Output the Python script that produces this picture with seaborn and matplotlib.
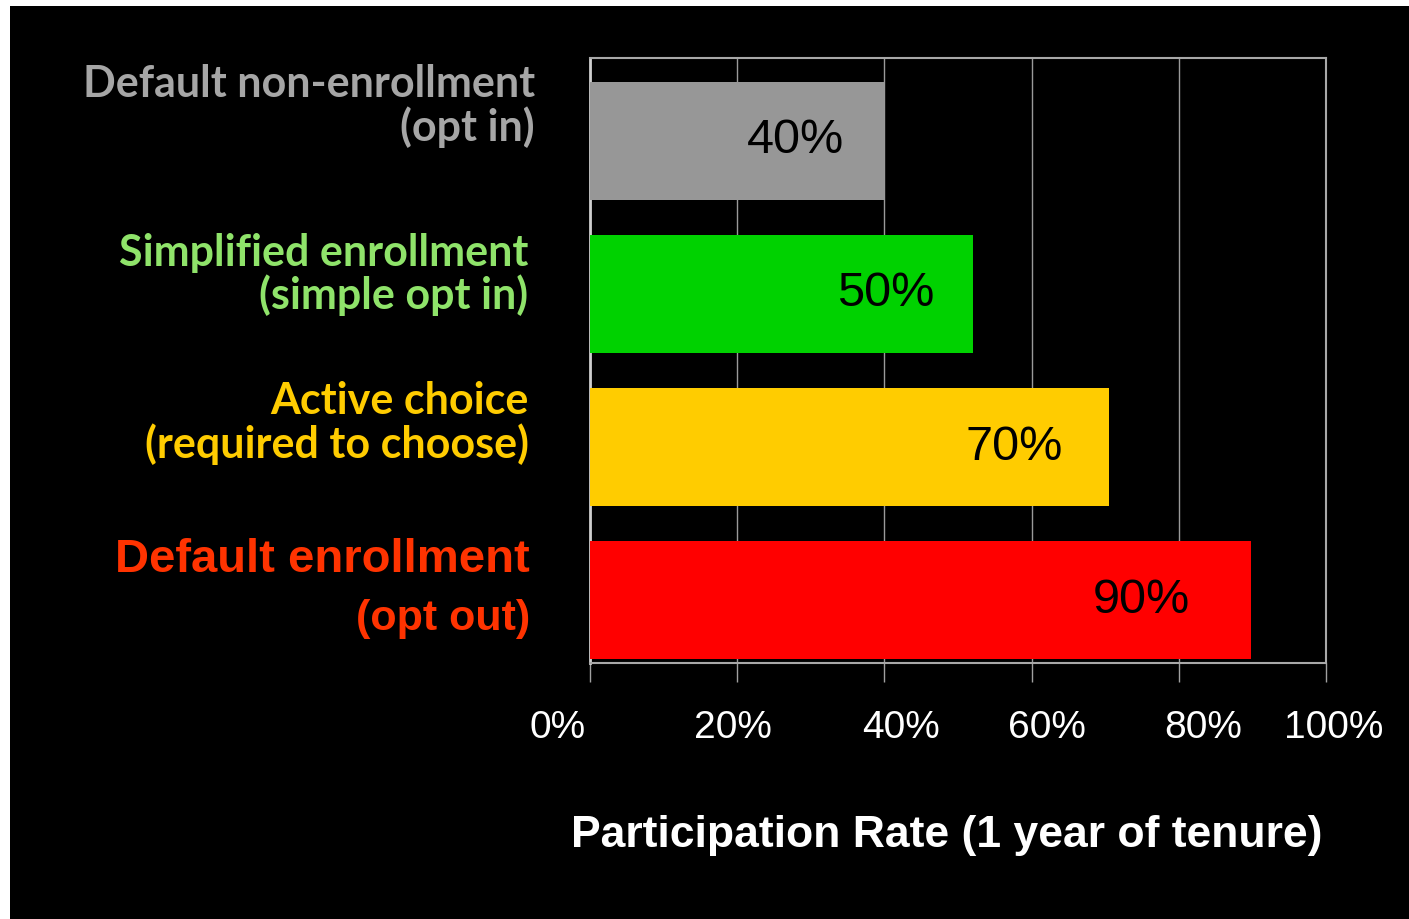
import matplotlib
matplotlib.use("Agg")
import matplotlib.pyplot as plt
import matplotlib.transforms as mtransforms
from matplotlib.patches import Rectangle
import seaborn as sns
import pandas as pd

# ---- data ----
categories = ["Default non-enrollment", "Simplified enrollment", "Active choice", "Default enrollment"]
sublabels = ["(opt in)", "(simple opt in)", "(required to choose)", "(opt out)"]
values = [40, 52, 70.5, 89.8]
value_labels = ["40%", "50%", "70%", "90%"]
xticks = [0, 20, 40, 60, 80, 100]
xtick_labels = ["0%", "20%", "40%", "60%", "80%", "100%"]
xlabel = "Participation Rate (1 year of tenure)"

# ---- style ----
bar_colors = ["#979797", "#00D200", "#FFCC00", "#FF0000"]
text_colors = ["#A6A6A6", "#8FE36A", "#FFCC00", "#FF3300"]
tick_label_shift = [-32, -4, 17, 15, 24, 8]   # pixel nudges of tick labels
value_label_shift = [-40, -38, -46, -61]

sns.set_theme(style="white")
plt.rcParams["font.family"] = ["Liberation Sans", "DejaVu Sans"]

fig = plt.figure(figsize=(14.09, 9.19), dpi=100, facecolor="white")
fig.patches.append(Rectangle((10 / 1409, 0), 1, 1 - 6 / 919, transform=fig.transFigure,
                             facecolor="black", edgecolor="none", zorder=-10))
ax = fig.add_axes([590 / 1409, 1 - 663 / 919, (1326 - 590) / 1409, (663 - 58) / 919])
ax.set_facecolor("black")

df = pd.DataFrame({"cat": categories, "val": values})
sns.barplot(data=df, x="val", y="cat", hue="cat", palette=bar_colors, legend=False,
            orient="h", width=0.77, linewidth=0, saturation=1, ax=ax, zorder=3)

ax.set_xlim(0, 100)
ax.set_ylim(3.41, -0.54)
ax.set_xticks(xticks)
ax.set_xticklabels(xtick_labels, fontsize=28, color="white", family="Liberation Sans")
ax.tick_params(axis="x", length=14, width=1, color="#A0A0A0", pad=20, bottom=True, direction="out")
for lab, dx in zip(ax.get_xticklabels(), tick_label_shift):
    lab.set_transform(lab.get_transform() + mtransforms.Affine2D().translate(dx, 0))
ax.set_yticks([])
ax.set_ylabel("")
ax.xaxis.grid(True, color="#9A9A9A", linewidth=1, zorder=0)
ax.set_axisbelow(True)
for side, sp in ax.spines.items():
    sp.set_visible(True)
    sp.set_color("#A8A8A8")
    sp.set_linewidth(1.5)
ax.spines["left"].set_color("#CFCFCF")
ax.spines["left"].set_linewidth(2)

ax.set_xlabel(xlabel, fontsize=32, fontweight="bold", color="white", family="Liberation Sans")
ax.xaxis.set_label_coords(0.485, -0.285)
ax.xaxis.label.set_verticalalignment("center")
ax.xaxis.set_label_coords(0.485, -(836 - 663) / 605)

# value labels
for i, (v, lab) in enumerate(zip(values, value_labels)):
    ax.annotate(lab, xy=(v, i), xytext=(value_label_shift[i], 0), textcoords="offset pixels",
                ha="right", va="center", fontsize=35, color="black", family="Liberation Sans",
                zorder=5)

# category labels
trans = mtransforms.blended_transform_factory(ax.transAxes, ax.transData)
line1_off = [-0.37, -0.27, -0.30, -0.26]
line2_off = [-0.09, 0.01, -0.02, 0.12]
xoffs = [-55, -62, -61, -60]
for i in range(4):
    if i < 3:
        fam, fs1, fs2 = "Lato", 31, 31
    else:
        fam, fs1, fs2 = "Liberation Sans", 34, 31
    ax.annotate(categories[i], xy=(0, i + line1_off[i]), xycoords=trans,
                xytext=(xoffs[i], 0), textcoords="offset pixels", ha="right", va="center",
                fontsize=fs1, fontweight="bold", color=text_colors[i], family=fam,
                annotation_clip=False)
    ax.annotate(sublabels[i], xy=(0, i + line2_off[i]), xycoords=trans,
                xytext=(xoffs[i], 0), textcoords="offset pixels", ha="right", va="center",
                fontsize=fs2, fontweight="bold", color=text_colors[i], family=fam,
                annotation_clip=False)

fig.savefig("out.png", dpi=100, facecolor=fig.get_facecolor())
